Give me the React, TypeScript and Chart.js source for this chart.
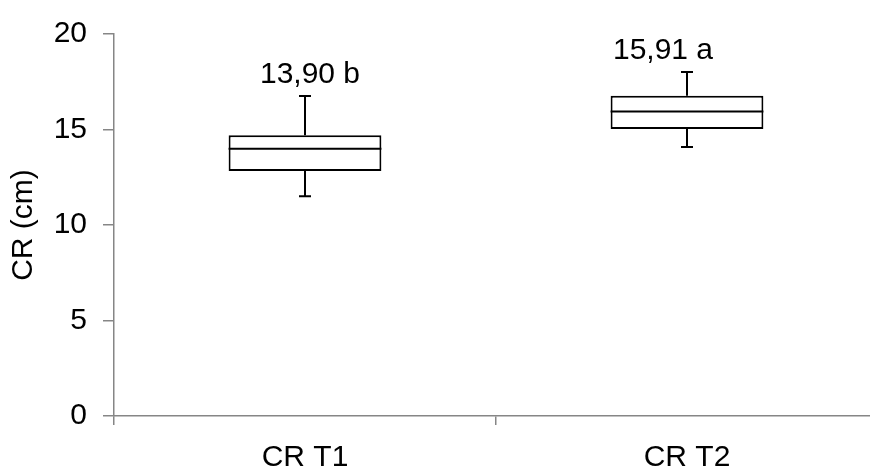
import React, { useEffect, useRef } from "react";
import { Chart, registerables } from "chart.js";

Chart.register(...registerables);

const categories = ["CR T1", "CR T2"];
const minValues = [11.5, 14.09];
const q1Values = [12.83, 15.03];
const medianValues = [13.99, 15.94];
const q3Values = [14.7, 16.77];
const maxValues = [16.75, 18.01];
const meanLabels = ["13,90 b", "15,91 a"];
const yTicks = [0, 5, 10, 15, 20];

// label nudges (px), the way the labels sit in the original
const labelDx = [5, -24];
const labelDy = -21.5;

const FONT = "'Liberation Sans', Arial, sans-serif";
const FONT_SIZE = 30;
const AXIS_GREY = "#868686";

const boxPlotPlugin = {
  id: "boxPlotExtras",
  afterDatasetsDraw(chart: any) {
    const ctx = chart.ctx;
    const yScale = chart.scales.y;
    const meta = chart.getDatasetMeta(0);
    ctx.save();
    ctx.strokeStyle = "#000";
    ctx.lineWidth = 2;
    meta.data.forEach((bar: any, i: number) => {
      const x = bar.x;
      const half = bar.width / 2;
      const yMed = yScale.getPixelForValue(medianValues[i]);
      const yQ1 = yScale.getPixelForValue(q1Values[i]);
      const yQ3 = yScale.getPixelForValue(q3Values[i]);
      const yMin = yScale.getPixelForValue(minValues[i]);
      const yMax = yScale.getPixelForValue(maxValues[i]);
      const cap = 6;

      ctx.beginPath();
      // median
      ctx.moveTo(x - half, yMed);
      ctx.lineTo(x + half, yMed);
      // upper whisker
      ctx.moveTo(x, yQ3);
      ctx.lineTo(x, yMax);
      ctx.moveTo(x - cap, yMax);
      ctx.lineTo(x + cap, yMax);
      // lower whisker
      ctx.moveTo(x, yQ1);
      ctx.lineTo(x, yMin);
      ctx.moveTo(x - cap, yMin);
      ctx.lineTo(x + cap, yMin);
      ctx.stroke();

      ctx.fillStyle = "#000";
      ctx.font = `${FONT_SIZE}px ${FONT}`;
      ctx.textAlign = "center";
      ctx.textBaseline = "middle";
      ctx.fillText(meanLabels[i], x + labelDx[i], yMax + labelDy);
    });
    ctx.restore();
  },
};

const App: React.FC = () => {
  const chartRef = useRef<HTMLCanvasElement | null>(null);
  const chartInstance = useRef<Chart | null>(null);

  useEffect(() => {
    if (chartRef.current) {
      if (chartInstance.current) {
        chartInstance.current.destroy();
      }
      const ctx = chartRef.current.getContext("2d");
      if (ctx) {
        chartInstance.current = new Chart(ctx, {
          type: "bar",
          data: {
            labels: categories,
            datasets: [
              {
                label: "CR",
                data: categories.map((_, i) => [q1Values[i], q3Values[i]]) as any,
                backgroundColor: "#ffffff",
                borderColor: "#000000",
                borderWidth: 2,
                borderSkipped: false,
                barPercentage: 0.4,
                categoryPercentage: 1,
              },
            ],
          },
          options: {
            animation: false,
            responsive: true,
            maintainAspectRatio: false,
            layout: { padding: { top: 30, right: 12, bottom: 0, left: 0 } },
            plugins: {
              legend: { display: false },
              tooltip: { enabled: false },
            },
            scales: {
              x: {
                offset: true,
                grid: {
                  offset: true,
                  drawOnChartArea: false,
                  drawTicks: true,
                  tickLength: 9,
                  color: (c: any) => (c.index === categories.length ? "rgba(0,0,0,0)" : AXIS_GREY),
                  lineWidth: 1.5,
                },
                border: { color: AXIS_GREY, width: 1.5 },
                ticks: {
                  color: "#000",
                  font: { family: FONT, size: FONT_SIZE },
                  padding: 15,
                },
                afterFit: (scale: any) => {
                  scale.height = 54;
                },
              },
              y: {
                min: 0,
                max: 20,
                afterBuildTicks: (scale: any) => {
                  scale.ticks = yTicks.map((v) => ({ value: v }));
                },
                grid: {
                  drawOnChartArea: false,
                  drawTicks: true,
                  tickLength: 11,
                  color: AXIS_GREY,
                  lineWidth: 1.5,
                },
                border: { color: AXIS_GREY, width: 1.5 },
                ticks: {
                  color: "#000",
                  font: { family: FONT, size: FONT_SIZE },
                  padding: 16,
                },
                title: {
                  display: true,
                  text: "CR (cm)",
                  color: "#000",
                  font: { family: FONT, size: FONT_SIZE },
                  padding: { top: 6, bottom: 0 },
                },
                afterFit: (scale: any) => {
                  scale.width = 114;
                },
              },
            },
          },
          plugins: [boxPlotPlugin],
        });
      }
    }

    return () => {
      if (chartInstance.current) {
        chartInstance.current.destroy();
        chartInstance.current = null;
      }
    };
  }, []);

  return (
    <div
      style={{
        position: "fixed",
        top: 0,
        left: 0,
        width: 870,
        height: 470,
        overflow: "hidden",
        background: "#fff",
      }}
    >
      <div style={{ position: "relative", width: 890, height: 470 }}>
        <canvas ref={chartRef} />
      </div>
    </div>
  );
};

export default App;
